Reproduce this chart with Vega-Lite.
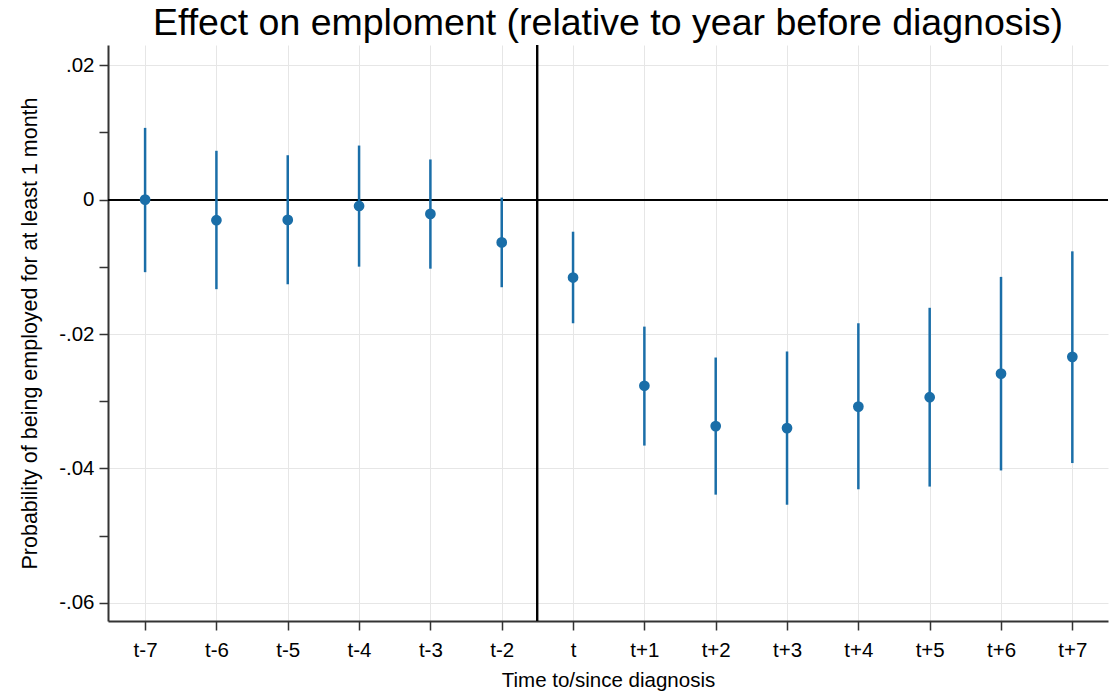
{
  "$schema": "https://vega.github.io/schema/vega-lite/v6.json",
  "width": 1000,
  "height": 576,
  "autosize": "none",
  "padding": {"left": 108, "top": 45, "right": 8, "bottom": 70},
  "background": "white",
  "config": {
    "view": {"stroke": null},
    "font": "Liberation Sans",
    "axis": {
      "labelFont": "Liberation Sans",
      "titleFont": "Liberation Sans",
      "labelColor": "#000000",
      "titleColor": "#000000",
      "labelFontSize": 20.5,
      "titleFontSize": 20.5,
      "titleFontWeight": "normal",
      "domainColor": "#333333",
      "domainWidth": 2,
      "tickColor": "#333333",
      "tickWidth": 1.5,
      "tickSize": 9,
      "gridColor": "#e6e6e6",
      "gridWidth": 1
    }
  },
  "title": {
    "text": "Effect on emploment (relative to year before diagnosis)",
    "font": "Liberation Sans",
    "fontSize": 37.5,
    "fontWeight": "normal",
    "color": "#000000",
    "anchor": "middle",
    "offset": 2
  },
  "data": {
    "values": [
      {"t": 1, "label": "t-7", "b": 0.0, "lo": -0.0108, "hi": 0.01067},
      {"t": 2, "label": "t-6", "b": -0.00307, "lo": -0.01333, "hi": 0.00726},
      {"t": 3, "label": "t-5", "b": -0.00302, "lo": -0.0126, "hi": 0.0066},
      {"t": 4, "label": "t-4", "b": -0.00095, "lo": -0.00998, "hi": 0.00804},
      {"t": 5, "label": "t-3", "b": -0.00213, "lo": -0.01028, "hi": 0.00597},
      {"t": 6, "label": "t-2", "b": -0.00637, "lo": -0.01304, "hi": 0.0003},
      {"t": 7, "label": "t", "b": -0.0116, "lo": -0.0184, "hi": -0.00478},
      {"t": 8, "label": "t+1", "b": -0.0277, "lo": -0.0366, "hi": -0.0189},
      {"t": 9, "label": "t+2", "b": -0.0337, "lo": -0.0439, "hi": -0.0235},
      {"t": 10, "label": "t+3", "b": -0.034, "lo": -0.0454, "hi": -0.0226},
      {"t": 11, "label": "t+4", "b": -0.0308, "lo": -0.0431, "hi": -0.0184},
      {"t": 12, "label": "t+5", "b": -0.0294, "lo": -0.0427, "hi": -0.0161},
      {"t": 13, "label": "t+6", "b": -0.0259, "lo": -0.0403, "hi": -0.0115},
      {"t": 14, "label": "t+7", "b": -0.0234, "lo": -0.0392, "hi": -0.0077}
    ]
  },
  "encoding": {
    "x": {
      "field": "t",
      "type": "quantitative",
      "scale": {"domain": [0.48, 14.5], "nice": false, "zero": false},
      "axis": {
        "title": "Time to/since diagnosis",
        "values": [1, 2, 3, 4, 5, 6, 7, 8, 9, 10, 11, 12, 13, 14],
        "labelExpr": "['t-7','t-6','t-5','t-4','t-3','t-2','t','t+1','t+2','t+3','t+4','t+5','t+6','t+7'][datum.value-1]",
        "labelPadding": 10,
        "titlePadding": 10,
        "grid": true,
        "labelFlush": false,
        "labelOverlap": false
      }
    },
    "y": {
      "type": "quantitative",
      "scale": {"domain": [-0.0627, 0.023], "nice": false, "zero": false},
      "axis": {
        "title": "Probability of being employed for at least 1 month",
        "titleFontSize": 21.5,
        "values": [0.02, 0.01, 0, -0.01, -0.02, -0.03, -0.04, -0.05, -0.06],
        "labelExpr": "datum.value == 0.02 ? '.02' : datum.value == 0 ? '0' : datum.value == -0.02 ? '-.02' : datum.value == -0.04 ? '-.04' : datum.value == -0.06 ? '-.06' : ''",
        "gridOpacity": {"condition": {"test": "round(abs(datum.value)*100) % 2 == 1", "value": 0}, "value": 1},
        "labelPadding": 5,
        "titlePadding": 17,
        "grid": true,
        "labelFlush": false,
        "labelOverlap": false
      }
    }
  },
  "layer": [
    {
      "mark": {"type": "rule", "color": "#000000", "strokeWidth": 1.3},
      "encoding": {"y": {"datum": 0}, "x": null}
    },
    {
      "mark": {"type": "rule", "color": "#000000", "strokeWidth": 1.3},
      "encoding": {"x": {"datum": 6.5}, "y": null}
    },
    {
      "mark": {"type": "rule", "color": "#1a6ea8", "strokeWidth": 2.5},
      "encoding": {
        "y": {"field": "lo"},
        "y2": {"field": "hi"}
      }
    },
    {
      "mark": {"type": "point", "filled": true, "opacity": 1, "color": "#1a6ea8", "size": 115},
      "encoding": {"y": {"field": "b"}}
    }
  ]
}
